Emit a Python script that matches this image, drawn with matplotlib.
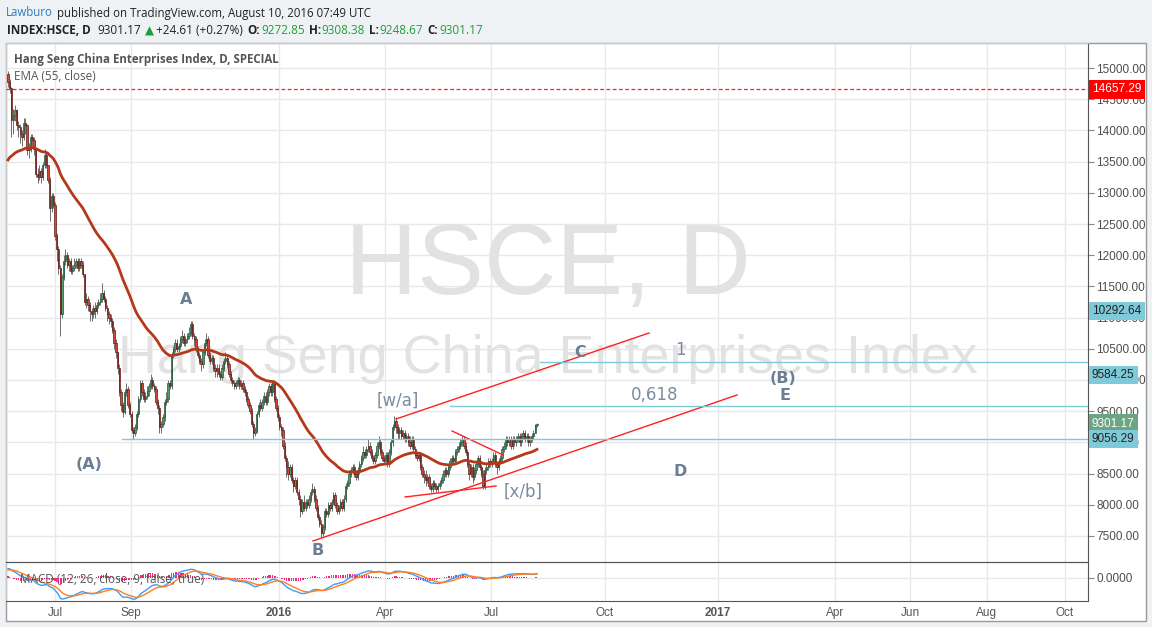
import numpy as np
import matplotlib
matplotlib.use('Agg')
import matplotlib.pyplot as plt
from matplotlib.transforms import blended_transform_factory as btf
from matplotlib.patches import Rectangle

# ---------------- data ----------------
first_open = 14900
last_open = 9272.85
closes = [
 14780,14680,14170,14250,14320,14090,14050,13950,13900,14120,
 14080,13680,13700,13900,13850,13700,13300,13250,13350,13250,
 13450,13600,13450,13200,12750,12950,12800,12300,12100,11800,
 11050,11650,11900,12000,11850,11900,11750,11800,11850,11900,
 11800,11900,11850,11700,11250,11300,11200,11100,11050,11150,
 11100,11200,11250,11300,11400,11300,11150,11050,11000,10950,
 10800,10600,10450,10200,9800,9600,9480,9800,9850,9600,
 9450,9200,9150,9250,9450,9700,9950,9800,9700,9750,
 9820,9900,10000,9900,9850,9650,9550,9250,9300,9400,
 9650,9700,9950,9900,10400,10500,10600,10500,10550,10650,
 10700,10600,10650,10700,10750,10900,10700,10650,10500,10400,
 10300,10250,10450,10600,10650,10400,10300,10350,10200,10150,
 10200,10100,10050,10200,10300,10350,10250,10100,10000,9950,
 9900,9950,10000,9900,9950,9850,9800,9700,9600,9500,
 9300,9150,9200,9450,9600,9550,9650,9750,9650,9800,
 9900,9800,9950,9700,9550,9400,9250,9200,8950,8750,
 8600,8500,8600,8400,8300,8400,8200,8100,7900,8050,
 7950,8050,8000,8100,8200,8250,8100,7950,7800,7700,
 7550,7650,7900,7850,8000,7950,8050,8150,8000,7900,
 7950,8050,7950,8100,8300,8350,8500,8550,8600,8500,
 8450,8550,8650,8750,8850,8800,8900,8950,8850,8750,
 8700,8800,8950,9000,8850,8750,8700,8800,8650,8850,
 9000,9250,9350,9250,9150,9200,9100,9150,9050,9100,
 9000,8950,9050,8900,8800,8750,8800,8600,8500,8450,
 8400,8450,8300,8250,8350,8300,8250,8300,8350,8400,
 8500,8550,8500,8600,8700,8750,8700,8850,8900,8950,
 9000,9050,8950,8850,8650,8500,8600,8450,8550,8650,
 8750,8600,8500,8300,8550,8600,8700,8650,8700,8800,
 8650,8600,8700,8750,8900,8950,9050,9000,9050,8950,
 9050,9000,9050,9100,9000,9100,9150,9050,9100,9000,
 9050,9100,9150,9276.56,9301.17]
highs = [
 14950,14830,14700,14350,14400,14350,14150,14100,14000,14200,
 14200,14100,13800,13950,13950,13900,13700,13400,13450,13400,
 13500,13700,13650,13450,13250,13000,13000,12850,12350,12150,
 11850,11700,12000,12100,12050,11950,11950,11850,11950,11950,
 11950,11950,11950,11900,11700,11400,11350,11250,11150,11200,
 11250,11250,11300,11400,11550,11450,11350,11200,11100,11050,
 11000,10850,10650,10450,10250,9850,9650,9850,9950,9900,
 9650,9500,9250,9300,9500,9750,10000,10000,9850,9800,
 9900,9950,10100,10050,9950,9900,9700,9600,9350,9450,
 9700,9800,10000,10000,10450,10550,10650,10650,10600,10700,
 10800,10750,10700,10750,10850,10950,10950,10750,10700,10550,
 10450,10350,10500,10650,10750,10700,10450,10400,10400,10250,
 10250,10250,10150,10250,10350,10450,10400,10300,10150,10050,
 10000,10000,10050,10050,10000,10000,9900,9850,9750,9650,
 9550,9350,9250,9500,9650,9700,9700,9800,9800,9850,
 9950,9950,10000,10000,9750,9600,9450,9300,9250,9000,
 8800,8700,8650,8650,8450,8450,8450,8250,8150,8100,
 8150,8100,8100,8150,8250,8350,8300,8150,8000,7850,
 7750,7700,7950,7950,8050,8050,8100,8200,8200,8050,
 8000,8100,8100,8150,8350,8400,8550,8600,8650,8650,
 8550,8600,8700,8800,8950,8900,8950,9050,9000,8900,
 8800,8850,9000,9100,9050,8900,8800,8850,8850,8900,
 9050,9300,9420,9400,9300,9250,9250,9200,9200,9150,
 9150,9100,9100,9100,8950,8850,8850,8850,8650,8550,
 8550,8500,8500,8350,8400,8400,8350,8350,8400,8450,
 8550,8600,8600,8650,8750,8800,8800,8900,8950,9000,
 9050,9100,9100,9000,8900,8700,8650,8650,8600,8700,
 8800,8800,8650,8550,8600,8650,8750,8750,8750,8850,
 8850,8700,8750,8800,8950,9000,9100,9100,9100,9100,
 9100,9100,9100,9150,9150,9150,9200,9200,9150,9150,
 9100,9150,9200,9290,9308.38]
lows = [
 14700,14600,13900,13950,14150,14000,13900,13800,13750,13850,
 13950,13600,13550,13650,13750,13600,13250,13150,13200,13150,
 13200,13400,13400,13150,12550,12700,12750,12250,11900,11700,
 10700,11000,11600,11850,11800,11750,11700,11700,11750,11800,
 11750,11750,11800,11650,11200,11150,11100,10950,10950,11000,
 11000,11050,11150,11200,11250,11250,11100,10950,10900,10850,
 10750,10500,10350,10100,9750,9500,9400,9450,9750,9550,
 9400,9150,9050,9100,9200,9400,9650,9750,9650,9650,
 9700,9750,9850,9850,9800,9600,9450,9150,9150,9250,
 9350,9600,9650,9850,9850,10350,10450,10450,10450,10500,
 10600,10550,10550,10600,10650,10700,10650,10550,10450,10350,
 10250,10150,10200,10400,10550,10350,10250,10250,10150,10050,
 10050,10050,10000,10000,10150,10250,10200,10050,9950,9900,
 9850,9850,9900,9850,9850,9800,9750,9650,9550,9450,
 9250,9050,9100,9150,9400,9500,9500,9600,9600,9600,
 9750,9750,9750,9650,9500,9350,9200,9100,8900,8700,
 8450,8400,8450,8350,8200,8250,8150,8000,7800,7850,
 7900,7900,7950,7950,8050,8150,8050,7900,7750,7650,
 7480,7500,7600,7800,7800,7900,7900,8000,7950,7850,
 7850,7900,7900,7900,8050,8250,8300,8450,8500,8450,
 8400,8400,8500,8600,8700,8750,8750,8850,8800,8700,
 8650,8650,8750,8900,8800,8700,8650,8650,8600,8600,
 8800,8950,9200,9150,9050,9050,9050,9050,9000,9000,
 8950,8900,8900,8850,8750,8700,8700,8550,8450,8350,
 8300,8350,8250,8200,8200,8250,8200,8200,8250,8300,
 8350,8450,8450,8450,8550,8650,8650,8650,8800,8850,
 8900,8950,8900,8800,8600,8400,8450,8350,8400,8500,
 8600,8550,8450,8250,8250,8500,8550,8600,8600,8650,
 8600,8500,8550,8650,8700,8850,8900,8950,8950,8900,
 8900,8950,8950,9000,8950,8950,9050,9000,9000,8950,
 8950,9000,9050,9150,9248.67]

ema_len = 55
ema_seed = 13480
macd_fast_seed, macd_slow_seed, macd_signal_seed = 14380, 14150, 200

xtick_bars = [27, 70.7, 155.7, 216.7, 277.6, 343.1, 408, 475.3, 518.4, 562.6, 607.5]
xtick_labels = ['Jul', 'Sep', '2016', 'Apr', 'Jul', 'Oct', '2017', 'Apr', 'Jun', 'Aug', 'Oct']
price_ticks = list(range(7500, 15001, 500))

# drawn lines (bar index, price)
channel_lower = ([175.3, 419.0], [7420, 9760])
channel_upper = ([223.0, 368.4], [9375, 10753])
wedge_top = ([255.2, 284.5], [9183, 8798])
wedge_bottom = ([228.2, 280.5], [8125, 8301])
hline_red = 14657.29
hlevels = [10292.64, 9584.25, 9056.29]
hlevel_start = [305.7, 254.0, 65.5]

# price-axis labels: (text, shown at price, face, text colour)
axis_labels = [("14657.29", 14657.29, '#ff0000', 'white'),
               ("10292.64", 11106, '#7fcad9', '#222222'),
               ("9584.25", 10080, '#7fcad9', '#222222'),
               ("9301.17", 9301.17, '#6ba583', 'white'),
               ("9056.29", 9056.29, '#7fcad9', '#222222')]

wave_labels_bold = [("A", 102.3, 11298), ("(A)", 46.6, 8638), ("B", 178.2, 7260),
                    ("C", 328.7, 10433), ("(B)", 445.4, 10016), ("E", 446.6, 9744),
                    ("D", 386.2, 8526)]
wave_labels_light = [("[w/a]", 224.1, 9663), ("[x/b]", 296.0, 8205),
                     ("1", 386.2, 10481), ("0,618", 371.8, 9760)]

# ---------------- figure ----------------
W, H = 1152, 627
fig = plt.figure(figsize=(W / 100, H / 100), dpi=100, facecolor='#eff2f5')
fig.patches.append(Rectangle((6 / W, 1 - 621 / H), 1140 / W, 578 / H, transform=fig.transFigure,
                             facecolor='white', edgecolor='#9a9a9a', lw=1, zorder=-5))

L, R = 6, 1088
ax = fig.add_axes([L / W, 1 - 562 / H, (R - L) / W, (562 - 43) / H])
axm = fig.add_axes([L / W, 1 - 601 / H, (R - L) / W, (601 - 562) / H], sharex=ax)

n = len(closes)
x = np.arange(n)
c = np.array(closes, float)
o = np.array([first_open] + closes[:-1], float)
o[-1] = last_open
hi = np.array(highs, float)
lo = np.array(lows, float)

# EMA
alpha = 2 / (ema_len + 1)
ema = np.empty(n)
prev = ema_seed
for i in range(n):
    prev = prev + alpha * (c[i] - prev)
    ema[i] = prev

# MACD
def ema_series(vals, length, seed):
    a = 2 / (length + 1)
    out = np.empty(len(vals))
    p = seed
    for i, v in enumerate(vals):
        p = p + a * (v - p)
        out[i] = p
    return out
macd = ema_series(c, 12, macd_fast_seed) - ema_series(c, 26, macd_slow_seed)
signal = ema_series(macd, 9, macd_signal_seed)
hist = macd - signal

# --- main axes ---
ax.set_facecolor('none')
ax.set_xlim(-1.15, 620.7)
ax.set_ylim(7083, 15401)
for t in xtick_bars:
    ax.axvline(t, color='#e8e8e8', lw=1, zorder=0)
    axm.axvline(t, color='#e8e8e8', lw=1, zorder=0)
for p in price_ticks:
    ax.axhline(p, color='#e8e8e8', lw=1, zorder=0)

# watermark
ax.text(0.501, 0.5665, "HSCE, D", transform=ax.transAxes, ha='center', va='center',
        fontsize=72, color='#e2e2e2', family='Liberation Sans', zorder=0.5)
ax.text(0.501, 0.392, "Hang Seng China Enterprises Index", transform=ax.transAxes,
        ha='center', va='center', fontsize=38.8, color='#e2e2e2', family='Liberation Sans', zorder=0.5)

# candles
up = c >= o
ax.vlines(x, lo, hi, color='#6f6f6f', lw=0.7, zorder=2)
bottom = np.minimum(o, c)
height = np.maximum(np.abs(c - o), 18)
ax.bar(x[up], height[up], bottom=bottom[up], width=0.75, color='#4f9a6c',
       edgecolor='#225437', lw=0.5, zorder=3)
ax.bar(x[~up], height[~up], bottom=bottom[~up], width=0.75, color='#d9473a',
       edgecolor='#5b1a13', lw=0.5, zorder=3)

ax.plot(x, ema, color='#b5381a', lw=2, zorder=4)

# lines
red = '#ff2020'
for xs, ys in (channel_lower, channel_upper, wedge_top, wedge_bottom):
    ax.plot(xs, ys, color=red, lw=1, zorder=5)
ax.axhline(hline_red, xmin=0.0, color=red, lw=0.9, ls=(0, (3, 2)), zorder=5)
for lv, st in zip(hlevels, hlevel_start):
    ax.plot([st, 620.7], [lv, lv], color='#7fcad9', lw=1, zorder=5)

for s, bx, py in wave_labels_bold:
    ax.text(bx, py, s, ha='center', va='center', fontsize=11.5, fontweight='bold',
            color='#6a7e94', family='DejaVu Sans', zorder=6)
for s, bx, py in wave_labels_light:
    ax.text(bx, py, s, ha='center', va='center', fontsize=12,
            color='#7a8ca0', family='DejaVu Sans', zorder=6)

# price axis
ax.yaxis.tick_right()
ax.set_yticks(price_ticks)
ax.set_yticklabels([f"{p:.2f}" for p in price_ticks])
ax.tick_params(axis='y', labelsize=8.5, labelcolor='#4d4d4d', color='#888888', length=4,
               pad=2, direction='out')
for lab in ax.get_yticklabels():
    lab.set_family('Liberation Sans')
ax.tick_params(axis='x', bottom=False, labelbottom=False)
for sp in ('top', 'left'):
    ax.spines[sp].set_color('#c8c8c8')
ax.spines['right'].set_color('#555555')
ax.spines['bottom'].set_color('#555555')

tr = btf(ax.transAxes, ax.transData)
for txt, py, fc, tc in axis_labels:
    ax.text(1.0 + 4 / (R - L), py, txt, transform=tr, ha='left', va='center', fontsize=8.5,
            family='Liberation Sans', color=tc, clip_on=False, zorder=10,
            bbox=dict(boxstyle='square,pad=0.28', fc=fc, ec='none'))

# legend texts
fig.text(14 / W, 1 - 60 / H, "Hang Seng China Enterprises Index, D, SPECIAL", fontsize=8.3,
         fontweight='bold', color='#555555', family='Open Sans', va='center', ha='left')
fig.text(14 / W, 1 - 77 / H, "EMA (55, close)", fontsize=8.5, color='#555555',
         family='Open Sans', va='center', ha='left')

# --- MACD axes ---
axm.set_facecolor('none')
axm.bar(x, hist, width=0.6, color='#f0287f', zorder=2)
axm.plot(x, macd, color='#3d9df5', lw=1, zorder=3)
axm.plot(x, signal, color='#ff7f1f', lw=1, zorder=3)
lo_m, hi_m = min(macd.min(), signal.min()), max(macd.max(), signal.max())
span = hi_m - lo_m
axm.set_ylim(lo_m - 0.06 * span, hi_m + 0.22 * span)
axm.axhline(0, color='#e8e8e8', lw=1, zorder=0)
axm.yaxis.tick_right()
axm.set_yticks([0])
axm.set_yticklabels(['0.0000'])
axm.tick_params(axis='y', labelsize=8.5, labelcolor='#4d4d4d', color='#888888', length=4, pad=2)
for lab in axm.get_yticklabels():
    lab.set_family('Liberation Sans')
axm.set_xticks(xtick_bars)
axm.set_xticklabels(xtick_labels)
axm.tick_params(axis='x', labelsize=8.5, labelcolor='#555555', length=0, pad=4.5)
for lab in axm.get_xticklabels():
    lab.set_family('Liberation Sans')
    if lab.get_text() in ('2016', '2017'):
        lab.set_fontweight('bold')
for sp in ('top', 'bottom', 'right'):
    axm.spines[sp].set_color('#555555')
axm.spines['left'].set_color('#c8c8c8')
axm.text(14 / (R - L), 0.55, "MACD (12, 26, close, 9, false, true)", transform=axm.transAxes,
         fontsize=8.5, color='#555555', family='Open Sans', va='center', ha='left', zorder=5)

# --- header (font size fitted to the reference line widths) ---
renderer = fig.canvas.get_renderer()
def seq(x0, y0, pieces, size, target_right):
    def place(sz):
        xx = x0
        arts = []
        for s, col, wt, gap in pieces:
            t = fig.text(xx / W, 1 - y0 / H, s, color=col, fontweight=wt, fontsize=sz,
                         family=['Open Sans', 'DejaVu Sans'], va='center', ha='left')
            arts.append(t)
            xx += t.get_window_extent(renderer=renderer).width + gap
        return arts, xx
    arts, right = place(size)
    gaps = sum(p[3] for p in pieces)
    new = size * (target_right - x0 - gaps) / (right - x0 - gaps)
    for a in arts:
        a.remove()
    place(new)

green = '#1f9e3a'
dark = '#222222'
seq(6, 13, [("Lawburo", '#2b7bbf', 'normal', 4),
            ("published on TradingView.com, August 10, 2016 07:49 UTC", dark, 'normal', 0)],
    9, 374)
seq(7, 31, [("INDEX:HSCE, D", dark, 'bold', 7), ("9301.17", dark, 'normal', 3),
            ("\u25b2", green, 'normal', 2), ("+24.61 (+0.27%)", dark, 'normal', 5),
            ("O:", dark, 'bold', 1), ("9272.85", green, 'normal', 4),
            ("H:", dark, 'bold', 1), ("9308.38", green, 'normal', 4),
            ("L:", dark, 'bold', 1), ("9248.67", green, 'normal', 4),
            ("C:", dark, 'bold', 1), ("9301.17", green, 'normal', 0)], 8.3, 483)

fig.savefig('out.png', dpi=100, facecolor=fig.get_facecolor())
